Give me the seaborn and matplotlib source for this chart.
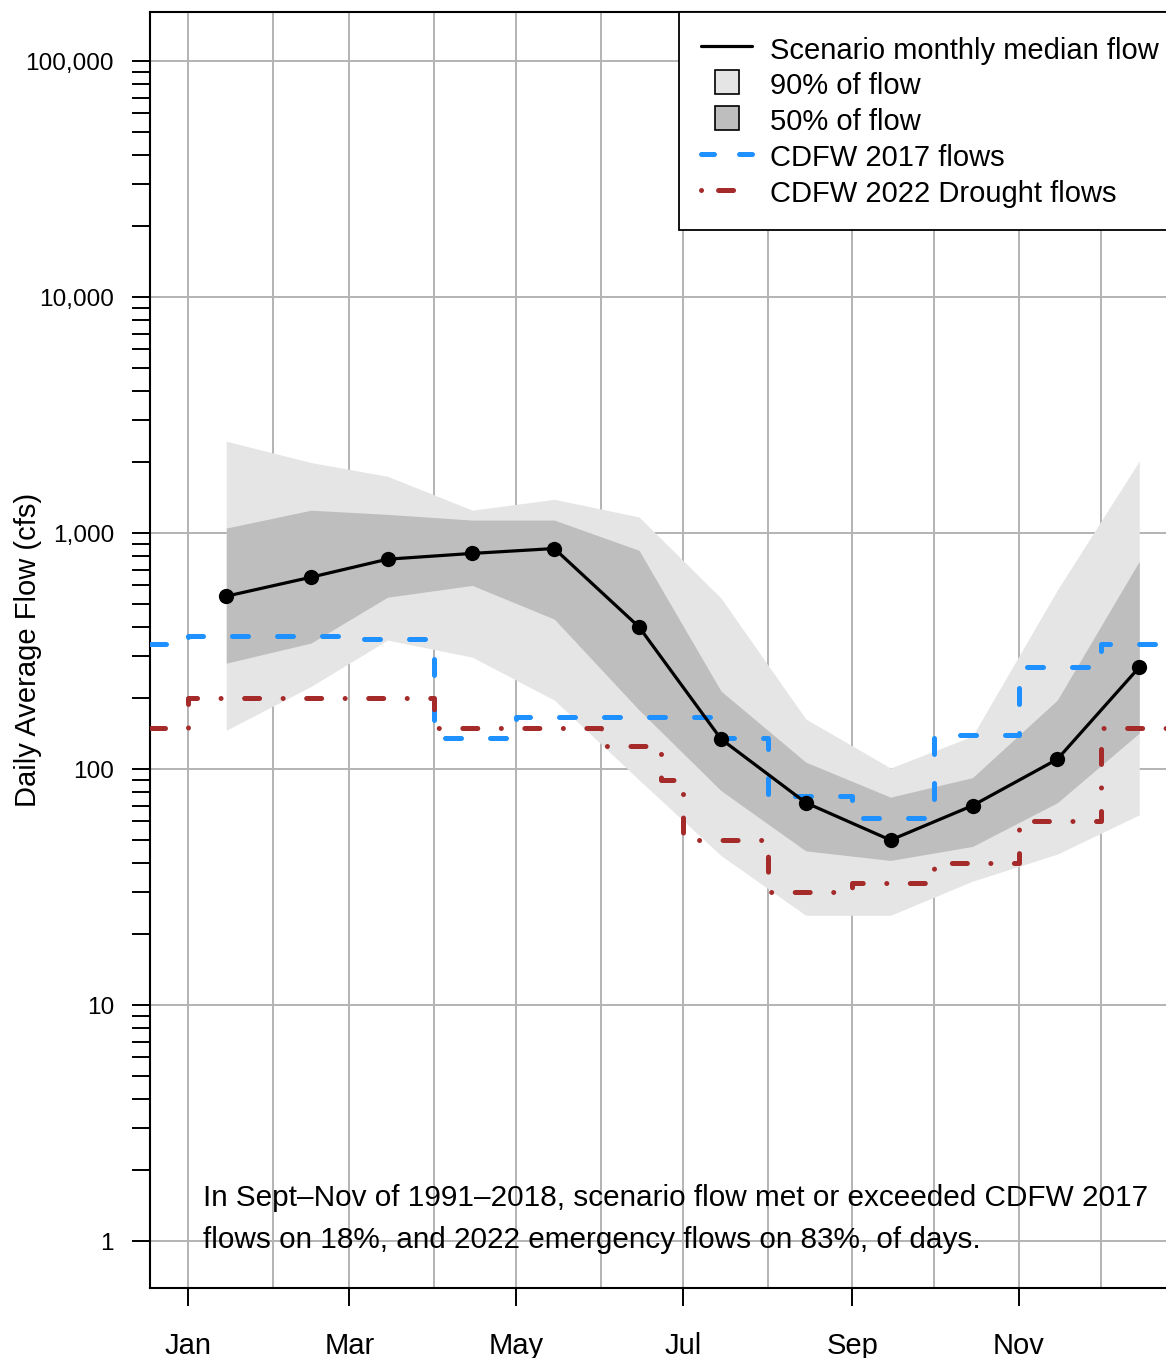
import numpy as np
import matplotlib
matplotlib.use("Agg")
import matplotlib.pyplot as plt
import seaborn as sns
from matplotlib.ticker import FixedLocator, FuncFormatter, NullFormatter
from matplotlib.lines import Line2D

# day-of-year positions (0 = Jan 1)
month_starts = [0, 31, 59, 90, 120, 151, 181, 212, 243, 273, 304, 334]
month_mid = [14, 45, 73, 104, 134, 165, 195, 226, 257, 287, 318, 348]
tick_days = [0, 59, 120, 181, 243, 304]
tick_labels = ["Jan", "Mar", "May", "Jul", "Sep", "Nov"]

# scenario monthly flows (cfs)
median_flow = [540, 650, 775, 820, 860, 400, 134, 72, 50, 70, 110, 270]
q50_hi = [1050, 1250, 1200, 1135, 1135, 845, 214, 107, 76, 92, 196, 760]
q50_lo = [281, 342, 535, 600, 432, 178, 81, 45, 41, 47, 72, 142]
q90_hi = [2450, 1990, 1740, 1250, 1390, 1170, 530, 163, 101, 138, 573, 2020]
q90_lo = [146, 224, 352, 298, 196, 90, 43, 24, 24, 33.5, 43.6, 64]

# CDFW step flows
cdfw17_days = [-14, 0, 59, 90, 120, 195, 212, 243, 273, 304, 334, 367]
cdfw17_vals = [340, 365, 355, 135, 166, 135, 77, 62, 139, 270, 340, 340]
cdfw22_days = [-14, 0, 90, 151, 173, 181, 212, 243, 273, 304, 334, 367]
cdfw22_vals = [150, 200, 150, 125, 90, 50, 30, 33, 40, 60, 150, 150]

sns.set_style("ticks")
plt.rcParams["font.family"] = ["Liberation Sans", "DejaVu Sans"]
plt.rcParams["text.color"] = "black"
plt.rcParams["axes.labelcolor"] = "black"
plt.rcParams["xtick.color"] = "black"
plt.rcParams["ytick.color"] = "black"

fig = plt.figure(figsize=(11.66, 13.58), dpi=100)
ppd = (1019 - 188) / 304.0
x_left = (150 - 188) / ppd
x_right = (1190 - 188) / ppd
ax = fig.add_axes([150 / 1166, 70 / 1358, 1040 / 1166, 1276 / 1358])

# grid
for d in month_starts:
    ax.axvline(d, color="#b3b3b3", lw=1.4, zorder=0)
for v in [1, 10, 100, 1000, 10000, 100000]:
    ax.axhline(v, color="#b3b3b3", lw=1.4, zorder=0)

# bands
ax.fill_between(month_mid, q90_lo, q90_hi, color="#e5e5e5", lw=0, zorder=1)
ax.fill_between(month_mid, q50_lo, q50_hi, color="#bebebe", lw=0, zorder=2)

sns.lineplot(x=month_mid, y=median_flow, ax=ax, color="black", lw=2.3,
             marker="o", markersize=11, markeredgewidth=0, zorder=5, legend=False)
sns.lineplot(x=cdfw17_days, y=cdfw17_vals, ax=ax, color="#1E90FF", lw=3.6,
             drawstyle="steps-post", linestyle=(0, (3.2, 5.8)),
             dash_capstyle="round", zorder=4, legend=False)
sns.lineplot(x=cdfw22_days, y=cdfw22_vals, ax=ax, color="#A52A2A", lw=3.6,
             drawstyle="steps-post", linestyle=(0, (3, 4.7, 0.01, 4.7)),
             dash_capstyle="round", zorder=4, legend=False)

ax.set_yscale("log")
ax.set_xlim(x_left, x_right)
ax.set_ylim(10 ** -0.199, 10 ** 5.208)

ax.xaxis.set_major_locator(FixedLocator(tick_days))
ax.set_xticklabels(tick_labels)
ax.yaxis.set_major_locator(FixedLocator([1, 10, 100, 1000, 10000, 100000]))
ax.yaxis.set_major_formatter(FuncFormatter(lambda v, p: f"{v:,.0f}"))
minor_y = [m * 10 ** e for e in range(0, 5) for m in range(2, 10)]
ax.yaxis.set_minor_locator(FixedLocator(minor_y))
ax.yaxis.set_minor_formatter(NullFormatter())
ax.tick_params(axis="x", which="major", length=13, width=1.4, pad=19, labelsize=21,
               color="black", labelcolor="black")
ax.tick_params(axis="y", which="both", length=13, width=1.4, pad=13, labelsize=17.6,
               color="black", labelcolor="black")
for s in ["left", "bottom", "top", "right"]:
    ax.spines[s].set_color("black")
    ax.spines[s].set_linewidth(1.5)

ax.set_xlabel("")
ax.set_ylabel("Daily Average Flow (cfs)", fontsize=21, color="black")
ax.yaxis.set_label_coords(-0.104, 0.5)

handles = [
    Line2D([], [], color="black", lw=2.3),
    Line2D([], [], ls="none", marker="s", markersize=17, markerfacecolor="#e5e5e5",
           markeredgecolor="black", markeredgewidth=1.2),
    Line2D([], [], ls="none", marker="s", markersize=17, markerfacecolor="#bebebe",
           markeredgecolor="black", markeredgewidth=1.2),
    Line2D([], [], color="#1E90FF", lw=3.6, linestyle=(0, (2.6, 5.0)), dash_capstyle="round"),
    Line2D([], [], color="#A52A2A", lw=3.6, linestyle=(0, (0.01, 3.4, 3, 4.7)), dash_capstyle="round"),
]
labels = ["Scenario monthly median flow", "90% of flow", "50% of flow",
          "CDFW 2017 flows", "CDFW 2022 Drought flows"]
leg = ax.legend(handles, labels, loc="upper left", bbox_to_anchor=((679 - 150) / 1040, 1.0),
                fontsize=21, frameon=True, fancybox=False, framealpha=1, edgecolor="black",
                borderaxespad=0, borderpad=0.76, labelspacing=0.19, handlelength=1.75,
                handleheight=1.15, handletextpad=0.6)
leg.get_frame().set_linewidth(1.3)
leg.set_zorder(10)
for t in leg.get_texts():
    t.set_color("black")

fig.text(203 / 1166, 1 - 1219 / 1358,
         "In Sept\u2013Nov of 1991\u20132018, scenario flow met or exceeded CDFW 2017\n"
         "flows on 18%, and 2022 emergency flows on 83%, of days.",
         fontsize=21.4, ha="left", va="center", linespacing=1.62, color="black")

fig.savefig("out.png", dpi=100)
